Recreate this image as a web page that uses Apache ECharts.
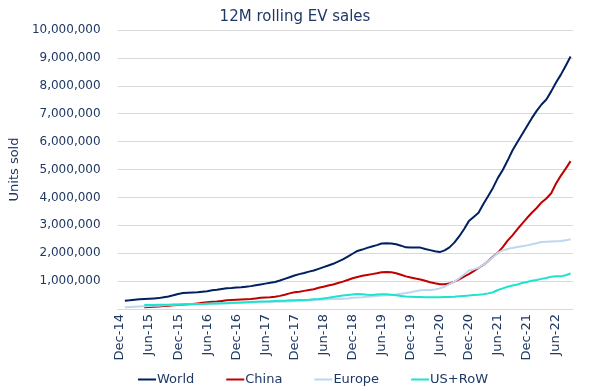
<!DOCTYPE html>
<html>
<head>
<meta charset="utf-8">
<script src="https://cdn.jsdelivr.net/npm/echarts@6/dist/echarts.min.js"></script>
<style>html,body{margin:0;padding:0;background:#fff}#c{width:590px;height:391px}</style>
</head>
<body>
<div id="c"></div>
<script>
const categories = [
'Dec-14',
'Jan-15','Feb-15','Mar-15','Apr-15','May-15','Jun-15','Jul-15','Aug-15','Sep-15','Oct-15','Nov-15','Dec-15',
'Jan-16','Feb-16','Mar-16','Apr-16','May-16','Jun-16','Jul-16','Aug-16','Sep-16','Oct-16','Nov-16','Dec-16',
'Jan-17','Feb-17','Mar-17','Apr-17','May-17','Jun-17','Jul-17','Aug-17','Sep-17','Oct-17','Nov-17','Dec-17',
'Jan-18','Feb-18','Mar-18','Apr-18','May-18','Jun-18','Jul-18','Aug-18','Sep-18','Oct-18','Nov-18','Dec-18',
'Jan-19','Feb-19','Mar-19','Apr-19','May-19','Jun-19','Jul-19','Aug-19','Sep-19','Oct-19','Nov-19','Dec-19',
'Jan-20','Feb-20','Mar-20','Apr-20','May-20','Jun-20','Jul-20','Aug-20','Sep-20','Oct-20','Nov-20','Dec-20',
'Jan-21','Feb-21','Mar-21','Apr-21','May-21','Jun-21','Jul-21','Aug-21','Sep-21','Oct-21','Nov-21','Dec-21',
'Jan-22','Feb-22','Mar-22','Apr-22','May-22','Jun-22','Jul-22','Aug-22','Sep-22'
];

// values in millions of units (12M rolling)
const world = [null,
0.30,0.31,0.33,0.35,0.36,0.37,0.38,0.39,0.42,0.45,0.49,0.54,
0.57,0.58,0.59,0.60,0.62,0.64,0.67,0.69,0.72,0.74,0.75,0.77,
0.78,0.80,0.82,0.85,0.88,0.91,0.94,0.97,1.02,1.08,1.14,1.20,
1.25,1.29,1.34,1.38,1.44,1.50,1.56,1.62,1.70,1.78,1.88,1.98,
2.08,2.13,2.19,2.24,2.29,2.35,2.36,2.35,2.32,2.27,2.21,2.20,
2.20,2.20,2.15,2.11,2.07,2.04,2.10,2.21,2.38,2.60,2.86,3.15,
3.30,3.45,3.76,4.05,4.35,4.70,4.98,5.32,5.68,5.98,6.26,6.55,
6.84,7.10,7.33,7.51,7.80,8.12,8.40,8.72,9.05];

const china = [null,
null,null,null,null,0.06,0.07,0.08,0.09,0.11,0.12,0.13,0.14,
0.15,0.17,0.18,0.20,0.22,0.24,0.26,0.27,0.29,0.31,0.32,0.33,
0.34,0.35,0.36,0.38,0.40,0.41,0.42,0.44,0.47,0.51,0.56,0.60,
0.62,0.65,0.68,0.71,0.76,0.80,0.84,0.88,0.93,0.98,1.04,1.10,
1.15,1.19,1.22,1.25,1.28,1.32,1.33,1.32,1.28,1.23,1.17,1.13,
1.09,1.06,1.01,0.96,0.92,0.89,0.89,0.91,0.98,1.06,1.16,1.25,
1.36,1.47,1.58,1.72,1.88,2.02,2.22,2.45,2.64,2.85,3.06,3.26,
3.45,3.62,3.82,3.96,4.15,4.50,4.78,5.03,5.30];

const europe = [null,
0.06,0.07,0.08,0.09,0.10,0.11,0.12,0.12,0.13,0.14,0.15,0.16,
0.16,0.17,0.17,0.18,0.18,0.19,0.19,0.20,0.20,0.21,0.21,0.22,
0.22,0.23,0.23,0.24,0.24,0.25,0.25,0.26,0.26,0.27,0.27,0.28,
0.29,0.30,0.31,0.32,0.33,0.34,0.35,0.36,0.36,0.37,0.38,0.40,
0.41,0.42,0.44,0.45,0.47,0.48,0.49,0.50,0.52,0.55,0.57,0.60,
0.64,0.67,0.68,0.68,0.70,0.74,0.80,0.88,0.98,1.10,1.24,1.38,
1.42,1.48,1.58,1.72,1.86,2.02,2.10,2.15,2.19,2.22,2.25,2.28,
2.32,2.36,2.40,2.41,2.42,2.43,2.44,2.46,2.50];

const usRow = [null,
null,null,null,null,0.14,0.14,0.14,0.15,0.15,0.15,0.16,0.16,
0.17,0.17,0.17,0.18,0.18,0.19,0.20,0.20,0.21,0.21,0.22,0.22,
0.23,0.24,0.25,0.26,0.27,0.27,0.28,0.29,0.30,0.30,0.31,0.31,
0.32,0.32,0.33,0.35,0.36,0.38,0.40,0.43,0.46,0.48,0.50,0.52,
0.54,0.53,0.51,0.50,0.52,0.53,0.53,0.51,0.49,0.47,0.45,0.44,
0.43,0.43,0.42,0.42,0.42,0.42,0.43,0.43,0.44,0.46,0.47,0.48,
0.50,0.51,0.53,0.56,0.60,0.68,0.74,0.80,0.84,0.88,0.93,0.97,
1.01,1.04,1.08,1.11,1.16,1.17,1.17,1.21,1.27];

const seriesNames = ['World','China','Europe','US+RoW'];
const seriesColors = ['#002060','#C00000','#BDD7EE','#1DE3CF'];
const seriesData = [world, china, europe, usRow];

const FONT = 'DejaVu Sans';
const TXT = '#1F3864';

const chart = echarts.init(document.getElementById('c'), null, {renderer:'canvas'});
chart.setOption({
  animation: false,
  backgroundColor: '#ffffff',
  title: {
    text: '12M rolling EV sales',
    left: 'center', top: 5,
    textStyle: {fontFamily: FONT, fontSize: 15, fontWeight: 'normal', color: TXT}
  },
  legend: {
    left: 133, top: 368,
    itemWidth: 18, itemHeight: 2, itemGap: 32,
    icon: 'rect',
    textStyle: {fontFamily: FONT, fontSize: 13, color: TXT, padding: [0,0,0,-4]},
    data: seriesNames
  },
  grid: {left: 113, right: 17, top: 30, bottom: 82},
  xAxis: {
    type: 'category',
    data: categories,
    boundaryGap: true,
    axisLine: {show: true, lineStyle: {color: '#D9D9D9', width: 1}},
    axisTick: {show: false},
    axisLabel: {rotate: 90, interval: 5, margin: 5, fontFamily: FONT, fontSize: 13, color: TXT}
  },
  yAxis: {
    type: 'value',
    min: 0, max: 10, interval: 1,
    name: 'Units sold',
    nameLocation: 'middle',
    nameGap: 93,
    nameTextStyle: {fontFamily: FONT, fontSize: 13, color: TXT},
    axisLine: {show: false},
    axisTick: {show: false},
    splitLine: {lineStyle: {color: '#D9D9D9', width: 1}},
    axisLabel: {
      margin: 17, fontFamily: FONT, fontSize: 12, color: TXT,
      formatter: v => v === 0 ? '' : (Math.round(v * 1e6)).toLocaleString('en-US')
    }
  },
  series: seriesNames.map((n, k) => ({
    name: n,
    type: 'line',
    data: seriesData[k],
    symbol: 'none',
    showSymbol: false,
    connectNulls: false,
    lineStyle: {color: seriesColors[k], width: 2},
    itemStyle: {color: seriesColors[k]},
    z: 2 + k
  }))
});
</script>
</body>
</html>
